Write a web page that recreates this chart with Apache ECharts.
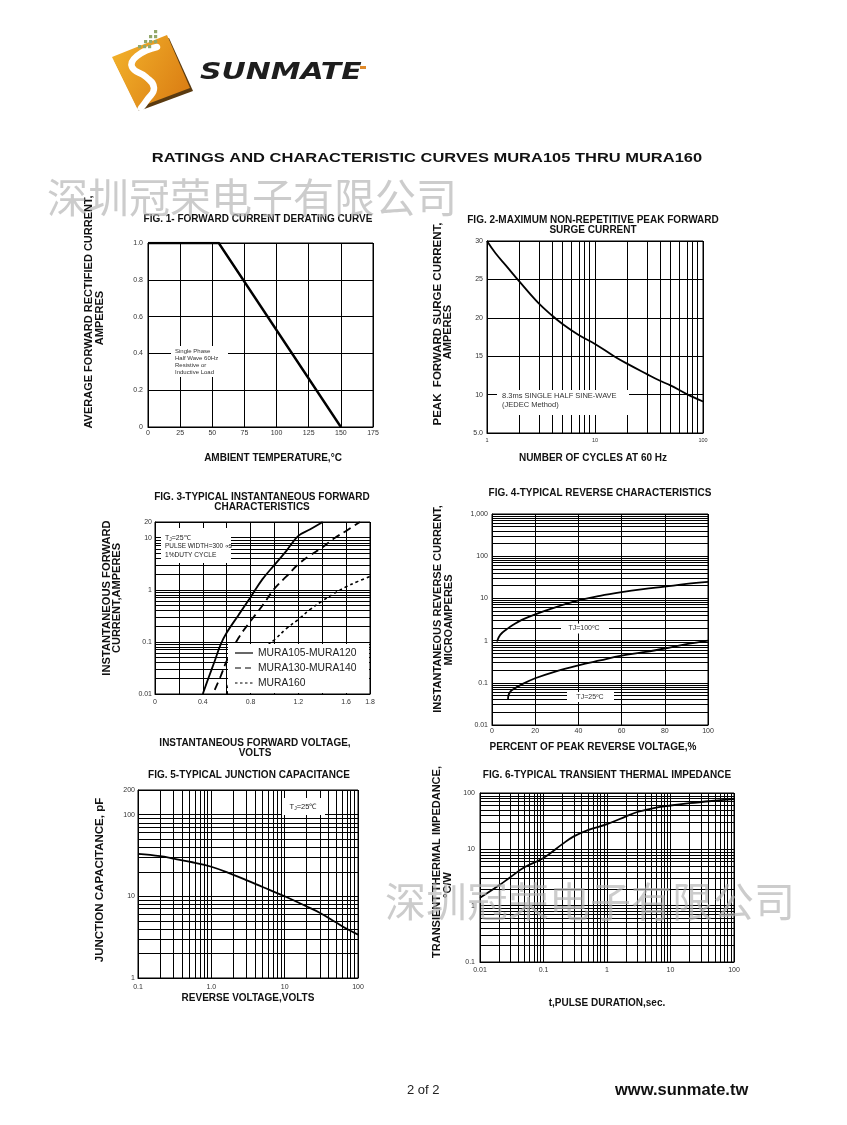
<!DOCTYPE html>
<html><head><meta charset="utf-8">
<script src="https://cdn.jsdelivr.net/npm/echarts@6/dist/echarts.min.js"></script>
<style>html,body{margin:0;padding:0;background:#fff}#c{width:847px;height:1125px}</style>
</head><body><div id="c"></div>
<script>
// ================= DATA =================
// Fig.1 forward current derating curve
const fig1Temp = [0, 55, 150];
const fig1Current = [1.0, 1.0, 0.0];
const fig1XTicks = [0, 25, 50, 75, 100, 125, 150, 175];
const fig1XLabels = ['0', '25', '50', '75', '100', '125', '150', '175'];
const fig1YTicks = [0, 0.2, 0.4, 0.6, 0.8, 1.0];
const fig1YLabels = ['0', '0.2', '0.4', '0.6', '0.8', '1.0'];

// Fig.2 peak forward surge current
const fig2Cycles = [1, 1.2, 1.5, 2, 3, 4, 5, 7, 10, 15, 20, 30, 40, 50, 70, 100];
const fig2Surge = [30, 28.4, 26.8, 24.7, 21.9, 20.3, 19.2, 17.8, 16.6, 15.0, 14.0, 12.7, 11.8, 11.2, 10.1, 9.1];
const fig2XTicks = [1, 10, 100];
const fig2XLabels = ['1', '10', '100'];
const fig2YTicks = [5, 10, 15, 20, 25, 30];
const fig2YLabels = ['5.0', '10', '15', '20', '25', '30'];

// Fig.3 instantaneous forward characteristics
const fig3Names = ['MURA105-MURA120', 'MURA130-MURA140', 'MURA160'];
const fig3VoltA = [0.40, 0.45, 0.50, 0.55, 0.60, 0.70, 0.80, 0.90, 1.00, 1.10, 1.20, 1.30, 1.404];
const fig3CurrA = [0.01, 0.021, 0.043, 0.09, 0.15, 0.33, 0.72, 1.6, 3.0, 5.6, 10.8, 14.5, 20];
const fig3VoltB = [0.50, 0.55, 0.60, 0.70, 0.80, 0.90, 1.00, 1.10, 1.20, 1.30, 1.40, 1.50, 1.60, 1.716];
const fig3CurrB = [0.012, 0.022, 0.043, 0.12, 0.25, 0.5, 1.05, 1.8, 3.1, 4.6, 6.5, 9.7, 13.5, 20];
const fig3VoltC = [0.605, 0.62, 0.70, 0.80, 0.90, 1.00, 1.10, 1.20, 1.30, 1.40, 1.50, 1.60, 1.70, 1.80];
const fig3CurrC = [0.01, 0.016, 0.028, 0.047, 0.072, 0.11, 0.18, 0.27, 0.42, 0.61, 0.85, 1.14, 1.45, 1.8];
const fig3XTicks = [0, 0.4, 0.8, 1.2, 1.6, 1.8];
const fig3XLabels = ['0', '0.4', '0.8', '1.2', '1.6', '1.8'];
const fig3YTicks = [0.01, 0.1, 1, 10, 20];
const fig3YLabels = ['0.01', '0.1', '1', '10', '20'];

// Fig.4 typical reverse characteristics
const fig4Pct100 = [2.3, 3.8, 6.9, 10, 13.8, 20, 30, 40, 50, 60, 70, 80, 90, 100];
const fig4Cur100 = [0.95, 1.37, 1.87, 2.4, 3.1, 4.2, 6.3, 9.0, 11.5, 14.0, 16.5, 19.0, 22.0, 24.5];
const fig4Pct25 = [7.4, 7.6, 8.5, 10, 13.8, 20, 30, 40, 50, 60, 70, 80, 90, 100];
const fig4Cur25 = [0.039, 0.05, 0.062, 0.071, 0.092, 0.128, 0.19, 0.26, 0.34, 0.44, 0.53, 0.65, 0.82, 1.0];
const fig4XTicks = [0, 20, 40, 60, 80, 100];
const fig4XLabels = ['0', '20', '40', '60', '80', '100'];
const fig4YTicks = [0.01, 0.1, 1, 10, 100, 1000];
const fig4YLabels = ['0.01', '0.1', '1', '10', '100', '1,000'];

// Fig.5 typical junction capacitance
const fig5Volt = [0.1, 0.2, 0.3, 0.5, 1, 2, 3, 5, 10, 20, 30, 50, 70, 100];
const fig5Cap = [33, 31, 29, 26.5, 23, 18.3, 15.8, 13, 10, 7.5, 6.3, 4.8, 4.0, 3.4];
const fig5XTicks = [0.1, 1, 10, 100];
const fig5XLabels = ['0.1', '1.0', '10', '100'];
const fig5YTicks = [1, 10, 100, 200];
const fig5YLabels = ['1', '10', '100', '200'];

// Fig.6 typical transient thermal impedance
const fig6Time = [0.01, 0.02, 0.03, 0.05, 0.1, 0.2, 0.3, 0.5, 1, 2, 3, 5, 10, 20, 50, 100];
const fig6Imp = [1.38, 2.3, 3.2, 4.8, 7.0, 12.5, 17.0, 22, 28, 38.5, 46, 53, 60, 66, 73, 78];
const fig6XTicks = [0.01, 0.1, 1, 10, 100];
const fig6XLabels = ['0.01', '0.1', '1', '10', '100'];
const fig6YTicks = [0.1, 1, 10, 100];
const fig6YLabels = ['0.1', '1', '10', '100'];

// ================= BUILD =================
const FONT = '"Liberation Sans", Arial, Helvetica, sans-serif';
const L = v => Math.log10(v);

function logGridValues(lo, hi) {
  const out = [];
  for (let e = Math.floor(L(lo)); e <= Math.ceil(L(hi)); e++) {
    for (let k = 1; k <= 9; k++) {
      const v = k * Math.pow(10, e);
      if (v >= lo * 0.9999 && v <= hi * 1.0001) out.push(v);
    }
  }
  return out;
}
function labelMap(ticks, labels, isLog) {
  return function (v) {
    for (let i = 0; i < ticks.length; i++) {
      const t = isLog ? L(ticks[i]) : ticks[i];
      if (Math.abs(t - v) < 1e-6) return labels[i];
    }
    return '';
  };
}
function axis(gi, min, max, interval, fmt, o) {
  o = o || {};
  return {
    gridIndex: gi, type: 'value', min: min, max: max, interval: interval,
    axisLine: { show: true, onZero: false, lineStyle: { color: '#000', width: 1 } },
    axisTick: { show: false },
    splitLine: { show: !!o.split, lineStyle: { color: '#000', width: 1 } },
    axisLabel: { show: true, formatter: fmt, fontSize: o.fs || 7, color: '#333', fontFamily: FONT,
      margin: (o.margin != null ? o.margin : 4), showMinLabel: true, showMaxLabel: true, hideOverlap: false }
  };
}
function gridLines(xs, ys) {
  return {
    silent: true, symbol: ['none', 'none'], animation: false, label: { show: false },
    emphasis: { disabled: true },
    lineStyle: { color: '#000', width: 1, type: 'solid', opacity: 1 },
    data: xs.map(v => ({ xAxis: v })).concat(ys.map(v => ({ yAxis: v })))
  };
}
function curve(gi, xs, ys, logX, logY, style, extra) {
  return Object.assign({
    type: 'line', xAxisIndex: gi, yAxisIndex: gi, symbol: 'none', showSymbol: false,
    smooth: 0.4, silent: true, animation: false, z: 3,
    data: xs.map((x, i) => [logX ? L(x) : x, logY ? L(ys[i]) : ys[i]]),
    lineStyle: Object.assign({ color: '#000', width: 1.8 }, style)
  }, extra || {});
}

const grids = [
  { left: 148, top: 243, width: 225, height: 184 },
  { left: 487, top: 241, width: 216, height: 192 },
  { left: 155, top: 522, width: 215, height: 172 },
  { left: 492, top: 514, width: 216, height: 211 },
  { left: 138, top: 790, width: 220, height: 188 },
  { left: 480, top: 793, width: 254, height: 169 }
].map(g => Object.assign({ show: true, borderColor: '#000', borderWidth: 1, backgroundColor: 'rgba(0,0,0,0)', containLabel: false }, g));

const xAxes = [
  axis(0, 0, 175, 25, labelMap(fig1XTicks, fig1XLabels, false), { split: true, margin: 3 }),
  axis(1, 0, 2, 1, labelMap(fig2XTicks, fig2XLabels, true), { fs: 5.5, margin: 4 }),
  axis(2, 0, 1.8, 0.2, labelMap(fig3XTicks, fig3XLabels, false), { split: true, margin: 5 }),
  axis(3, 0, 100, 20, labelMap(fig4XTicks, fig4XLabels, false), { split: true, margin: 3 }),
  axis(4, -1, 2, 1, labelMap(fig5XTicks, fig5XLabels, true), { margin: 6 }),
  axis(5, -2, 2, 1, labelMap(fig6XTicks, fig6XLabels, true), { margin: 5 })
];
const yAxes = [
  axis(0, 0, 1.0, 0.2, labelMap(fig1YTicks, fig1YLabels, false), { split: true, margin: 5 }),
  axis(1, 5, 30, 5, labelMap(fig2YTicks, fig2YLabels, false), { split: true, margin: 4 }),
  axis(2, -2, L(20), 1, labelMap(fig3YTicks, fig3YLabels, true), { margin: 3 }),
  axis(3, -2, 3, 1, labelMap(fig4YTicks, fig4YLabels, true), { margin: 4 }),
  axis(4, 0, L(200), 1, labelMap(fig5YTicks, fig5YLabels, true), { margin: 3 }),
  axis(5, -1, 2, 1, labelMap(fig6YTicks, fig6YLabels, true), { margin: 5 })
];

const series = [
  curve(0, fig1Temp, fig1Current, false, false, { width: 2.4 }, { smooth: false }),
  curve(1, fig2Cycles, fig2Surge, true, false, { width: 1.8 },
    { markLine: gridLines(logGridValues(1, 100).map(L), []) }),
  curve(2, fig3VoltA, fig3CurrA, false, true, { width: 1.8 },
    { name: fig3Names[0], markLine: gridLines([], logGridValues(0.01, 20).map(L)) }),
  curve(2, fig3VoltB, fig3CurrB, false, true, { width: 1.8, type: [8, 5] }, { name: fig3Names[1] }),
  curve(2, fig3VoltC, fig3CurrC, false, true, { width: 1.6, type: [3, 3] }, { name: fig3Names[2] }),
  curve(3, fig4Pct100, fig4Cur100, false, true, { width: 1.8 },
    { markLine: gridLines([], logGridValues(0.01, 1000).map(L)) }),
  curve(3, fig4Pct25, fig4Cur25, false, true, { width: 1.8 }),
  curve(4, fig5Volt, fig5Cap, true, true, { width: 1.8 },
    { markLine: gridLines(logGridValues(0.1, 100).map(L), logGridValues(1, 200).map(L)) }),
  curve(5, fig6Time, fig6Imp, true, true, { width: 1.8 },
    { markLine: gridLines(logGridValues(0.01, 100).map(L), logGridValues(0.1, 100).map(L)) })
];

// ---------- graphic helpers ----------
function txt(x, y, text, o) {
  o = o || {};
  const st = {
    text: text, fill: o.color || '#111', fontSize: o.fs || 9, fontWeight: o.bold ? 'bold' : 'normal',
    fontFamily: o.family || FONT, fontStyle: o.italic ? 'italic' : 'normal',
    textAlign: o.align || 'center', textVerticalAlign: o.va || 'middle',
    align: o.align || 'center', verticalAlign: o.va || 'middle'
  };
  if (o.rich) st.rich = o.rich;
  if (o.opacity != null) st.opacity = o.opacity;
  const el = { type: 'text', x: x, y: y, z: o.z || 110, silent: true, style: st };
  if (o.rot) el.rotation = o.rot;
  if (o.scaleX) el.scaleX = o.scaleX;
  return el;
}
function box(x, y, w, h) {
  return { type: 'rect', z: 100, silent: true, shape: { x: x, y: y, width: w, height: h }, style: { fill: '#fff' } };
}
function seg(x1, y1, x2, y2, dash, w) {
  return { type: 'line', z: 110, silent: true, shape: { x1: x1, y1: y1, x2: x2, y2: y2 },
    style: { stroke: '#000', lineWidth: w || 1.2, lineDash: dash || null } };
}
const R90 = Math.PI / 2;
const sub = { s: { fontSize: 5, fontFamily: FONT, fill: '#222', padding: [3, 0, 0, 0] } };

const graphics = [];
// ---- logo ----
graphics.push({ type: 'polygon', z: 50, silent: true, shape: { points: [[114, 60], [169, 38], [193, 91], [139, 111]] }, style: { fill: '#5a3a10' } });
graphics.push({ type: 'polygon', z: 51, silent: true, shape: { points: [[112, 57], [167, 35], [190, 88], [137, 108]] },
  style: { fill: { type: 'linear', x: 0, y: 0, x2: 1, y2: 0.6, colorStops: [{ offset: 0, color: '#f4b52c' }, { offset: 1, color: '#dc8115' }] } } });
graphics.push({ type: 'polyline', z: 52, silent: true, shape: { points: [[157, 47], [137, 56], [132, 67], [146, 77], [154, 88], [147, 100], [141, 108]], smooth: 0.5 },
  style: { stroke: '#fff', lineWidth: 6.5, fill: null, lineCap: 'round' } });
[[154, 30], [149, 35], [154, 35], [144, 40], [149, 40], [154, 40], [138, 45], [143, 45], [148, 45]].forEach(p => {
  graphics.push({ type: 'rect', z: 52, silent: true, shape: { x: p[0], y: p[1], width: 3.2, height: 3.2 }, style: { fill: '#93a86a' } });
});
graphics.push(txt(200, 73, 'SUNMATE', { fs: 23, bold: true, italic: true, family: '"DejaVu Sans", sans-serif', align: 'left', color: '#1e1e1e', scaleX: 1.3 }));
graphics.push({ type: 'rect', z: 52, silent: true, shape: { x: 360, y: 66, width: 6, height: 3 }, style: { fill: '#e08a2a' } });

// ---- main title ----
graphics.push(txt(427, 158, 'RATINGS AND CHARACTERISTIC CURVES MURA105 THRU MURA160', { fs: 13.5, bold: true, scaleX: 1.22 }));

// ---- figure titles ----
graphics.push(txt(258, 219, 'FIG. 1- FORWARD CURRENT DERATING CURVE', { fs: 10, bold: true }));
graphics.push(txt(593, 220, 'FIG. 2-MAXIMUM NON-REPETITIVE PEAK FORWARD', { fs: 10, bold: true }));
graphics.push(txt(593, 230.5, 'SURGE CURRENT', { fs: 10, bold: true }));
graphics.push(txt(262, 497.5, 'FIG. 3-TYPICAL INSTANTANEOUS FORWARD', { fs: 10, bold: true }));
graphics.push(txt(262, 507.5, 'CHARACTERISTICS', { fs: 10, bold: true }));
graphics.push(txt(600, 493.5, 'FIG. 4-TYPICAL REVERSE CHARACTERISTICS', { fs: 10, bold: true }));
graphics.push(txt(249, 775, 'FIG. 5-TYPICAL JUNCTION CAPACITANCE', { fs: 10, bold: true }));
graphics.push(txt(607, 775.5, 'FIG. 6-TYPICAL TRANSIENT THERMAL IMPEDANCE', { fs: 10, bold: true }));

// ---- x axis names ----
graphics.push(txt(273, 458, 'AMBIENT TEMPERATURE,°C', { fs: 10, bold: true }));
graphics.push(txt(593, 458, 'NUMBER OF CYCLES AT 60 Hz', { fs: 10, bold: true }));
graphics.push(txt(255, 743.5, 'INSTANTANEOUS FORWARD VOLTAGE,', { fs: 10, bold: true }));
graphics.push(txt(255, 753.5, 'VOLTS', { fs: 10, bold: true }));
graphics.push(txt(593, 747, 'PERCENT OF PEAK REVERSE VOLTAGE,%', { fs: 10, bold: true }));
graphics.push(txt(248, 998, 'REVERSE VOLTAGE,VOLTS', { fs: 10, bold: true }));
graphics.push(txt(607, 1003, 't,PULSE DURATION,sec.', { fs: 10, bold: true }));

// ---- y axis names (rotated) ----
graphics.push(txt(89, 312, 'AVERAGE FORWARD RECTIFIED CURRENT,', { fs: 11, bold: true, rot: R90 }));
graphics.push(txt(99.5, 318, 'AMPERES', { fs: 11, bold: true, rot: R90 }));
graphics.push(txt(438, 324, 'PEAK  FORWARD SURGE CURRENT,', { fs: 11.5, bold: true, rot: R90 }));
graphics.push(txt(448, 332, 'AMPERES', { fs: 11, bold: true, rot: R90 }));
graphics.push(txt(107, 598, 'INSTANTANEOUS FORWARD', { fs: 11.2, bold: true, rot: R90 }));
graphics.push(txt(117, 598, 'CURRENT,AMPERES', { fs: 11, bold: true, rot: R90 }));
graphics.push(txt(438, 609, 'INSTANTANEOUS REVERSE CURRENT,', { fs: 11, bold: true, rot: R90 }));
graphics.push(txt(449, 620, 'MICROAMPERES', { fs: 11, bold: true, rot: R90 }));
graphics.push(txt(100, 880, 'JUNCTION CAPACITANCE, pF', { fs: 11.5, bold: true, rot: R90 }));
graphics.push(txt(436.5, 862, 'TRANSIENT THERMAL IMPEDANCE,', { fs: 11, bold: true, rot: R90 }));
graphics.push(txt(447.5, 885, '°C/W', { fs: 11, bold: true, rot: R90 }));

// ---- annotation boxes ----
// Fig1
graphics.push(box(171, 346, 57, 31));
['Single Phase', 'Half Wave 60Hz', 'Resistive or', 'Inductive Load'].forEach((t, i) => {
  graphics.push(txt(175, 351 + i * 7, t, { fs: 6, align: 'left', color: '#333' }));
});
// Fig2
graphics.push(box(497, 390, 132, 25));
graphics.push(txt(502, 396, '8.3ms SINGLE HALF SINE-WAVE', { fs: 7.5, align: 'left', color: '#333' }));
graphics.push(txt(502, 405, '(JEDEC Method)', { fs: 7.5, align: 'left', color: '#333' }));
// Fig3 conditions
graphics.push(box(161, 528, 70, 35));
graphics.push(txt(165, 538, 'T{s|J}=25℃', { fs: 7, align: 'left', color: '#222', rich: sub }));
graphics.push(txt(165, 546.5, 'PULSE WIDTH=300 ∝s', { fs: 6.4, align: 'left', color: '#222' }));
graphics.push(txt(165, 555, '1%DUTY CYCLE', { fs: 6.6, align: 'left', color: '#222' }));
// Fig3 legend
graphics.push(box(228, 644, 141, 49));
graphics.push(seg(235, 653, 253, 653, null, 1.2));
graphics.push(seg(235, 668, 253, 668, [6, 4], 1.2));
graphics.push(seg(235, 683, 253, 683, [2.5, 2.5], 1.2));
fig3Names.forEach((n, i) => graphics.push(txt(258, 653 + i * 15, n, { fs: 10.3, align: 'left', color: '#222' })));
// Fig4
graphics.push(box(561, 623.5, 48, 10));
graphics.push(txt(584, 628.5, 'TJ=100ºC', { fs: 7, color: '#333' }));
graphics.push(box(567, 692, 47, 10));
graphics.push(txt(590, 697, 'TJ=25ºC', { fs: 7, color: '#333' }));
// Fig5
graphics.push(box(282, 798, 43, 17));
graphics.push(txt(303, 807, 'T{s|J}=25℃', { fs: 7.5, color: '#222', rich: sub }));

// ---- watermarks ----
graphics.push(txt(47, 197, '深圳冠荣电子有限公司', { fs: 41, align: 'left', color: '#b0b0b0', opacity: 0.65, family: '"Noto Sans CJK SC", sans-serif', z: 200 }));
graphics.push(txt(385, 901, '深圳冠荣电子有限公司', { fs: 41, align: 'left', color: '#b0b0b0', opacity: 0.65, family: '"Noto Sans CJK SC", sans-serif', z: 200 }));

// ---- footer ----
graphics.push(txt(407, 1090, '2 of 2', { fs: 13, align: 'left', color: '#222' }));
graphics.push(txt(615, 1090, 'www.sunmate.tw', { fs: 16.5, bold: true, align: 'left', color: '#111' }));

const chart = echarts.init(document.getElementById('c'), null, { renderer: 'canvas', width: 847, height: 1125 });
chart.setOption({
  backgroundColor: '#fff',
  animation: false,
  grid: grids,
  xAxis: xAxes,
  yAxis: yAxes,
  series: series,
  graphic: { elements: graphics }
});
</script>
</body></html>
